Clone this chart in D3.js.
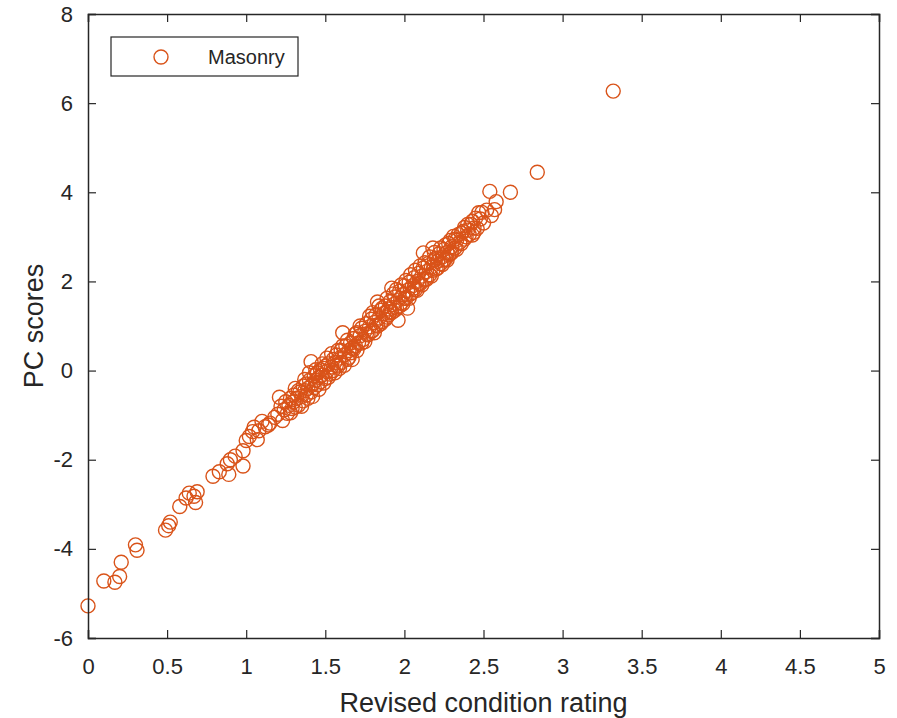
<!DOCTYPE html>
<html>
<head>
<meta charset="utf-8">
<script src="https://cdn.jsdelivr.net/npm/d3@7"></script>
<style>
  body { margin: 0; background: #fff; }
  text { font-family: "Liberation Sans", Arial, Helvetica, sans-serif; fill: #262626; }
</style>
</head>
<body>
<script>
//Chart data
var rating = [
  0.00, 0.10, 0.17, 0.20, 0.21, 0.30, 0.31, 0.49, 0.51, 0.52,
  0.58, 0.62, 0.64, 0.68, 0.67, 0.69, 0.79, 0.83, 0.89, 0.88,
  0.90, 0.93, 0.98, 0.98, 1.00, 1.02, 1.04, 1.05, 1.08, 1.10,
  1.12, 1.07, 1.14, 1.15, 1.18, 1.20, 1.21, 1.22, 1.23, 1.24,
  1.25, 1.26, 1.27, 1.28, 1.29, 1.30, 1.30, 1.31, 1.32, 1.33,
  1.34, 1.35, 1.36, 1.36, 1.37, 1.38, 1.38, 1.39, 1.40, 1.41,
  1.41, 1.42, 1.43, 1.43, 1.44, 1.45, 1.45, 1.46, 1.47, 1.47,
  1.48, 1.49, 1.50, 1.50, 1.51, 1.52, 1.53, 1.54, 1.55, 1.55,
  1.56, 1.57, 1.58, 1.59, 1.60, 1.60, 1.61, 1.62, 1.63, 1.64,
  1.65, 1.66, 1.67, 1.67, 1.68, 1.69, 1.70, 1.71, 1.72, 1.73,
  1.74, 1.75, 1.76, 1.77, 1.78, 1.79, 1.80, 1.81, 1.82, 1.83,
  1.83, 1.84, 1.85, 1.86, 1.87, 1.88, 1.89, 1.90, 1.91, 1.92,
  1.92, 1.93, 1.94, 1.95, 1.96, 1.96, 1.97, 1.98, 1.99, 2.00,
  2.01, 2.02, 2.02, 2.03, 2.04, 2.05, 2.06, 2.07, 2.08, 2.09,
  2.10, 2.11, 2.12, 2.12, 2.13, 2.14, 2.15, 2.16, 2.17, 2.18,
  2.19, 2.20, 2.21, 2.22, 2.23, 2.24, 2.25, 2.26, 2.27, 2.28,
  2.29, 2.30, 2.31, 2.32, 2.33, 2.35, 2.36, 2.38, 2.39, 2.40,
  2.42, 2.43, 2.44, 2.46, 2.47, 2.48, 2.50, 2.52, 2.54, 2.55,
  2.57, 2.58, 2.67, 2.84, 3.32,
  1.28, 1.31, 1.33, 1.35, 1.37, 1.39, 1.40, 1.42, 1.44, 1.46,
  1.48, 1.49, 1.51, 1.52, 1.54, 1.56, 1.57, 1.58, 1.59, 1.61,
  1.62, 1.64, 1.65, 1.66, 1.68, 1.69, 1.70, 1.72, 1.73, 1.75,
  1.76, 1.78, 1.79, 1.80, 1.81, 1.82, 1.84, 1.85, 1.86, 1.88,
  1.89, 1.90, 1.91, 1.93, 1.94, 1.95, 1.97, 1.98, 1.99, 2.00,
  2.01, 2.03, 2.04, 2.05, 2.06, 2.07, 2.08, 2.09, 2.10, 2.11,
  2.13, 2.14, 2.16, 2.17, 2.18, 2.19, 2.20, 2.21, 2.23, 2.24,
  2.25, 2.26, 2.27, 2.28, 2.29, 2.30, 2.32, 2.33, 2.34, 2.36,
  2.37, 2.38, 2.40, 2.41, 2.43, 2.45, 2.44, 2.49
];
var scores = [
  -5.28, -4.72, -4.75, -4.62, -4.30, -3.91, -4.03, -3.58, -3.48, -3.40,
  -3.05, -2.86, -2.75, -2.96, -2.82, -2.72, -2.37, -2.27, -2.33, -2.09,
  -2.00, -1.92, -2.14, -1.80, -1.57, -1.48, -1.37, -1.27, -1.35, -1.14,
  -1.26, -1.55, -1.22, -1.18, -1.05, -0.98, -0.60, -0.80, -1.12, -0.88,
  -0.70, -0.96, -0.78, -0.62, -0.85, -0.55, -0.70, -0.40, -0.62, -0.78,
  -0.48, -0.58, -0.35, -0.68, -0.45, -0.30, -0.55, -0.40, -0.22, 0.20,
  -0.48, -0.30, -0.12, -0.38, -0.22, -0.05, -0.32, -0.15, 0.02, -0.25,
  -0.10, 0.05, -0.18, 0.10, -0.02, 0.15, -0.08, 0.08, 0.25, 0.00,
  0.18, 0.35, 0.10, 0.28, 0.45, 0.18, 0.85, 0.35, 0.55, 0.25,
  0.45, 0.62, 0.25, 0.50, 0.72, 0.55, 0.85, 0.62, 0.78, 0.95,
  0.70, 0.88, 1.05, 0.80, 0.98, 1.15, 0.90, 1.08, 1.25, 1.54,
  1.00, 1.18, 1.35, 1.10, 1.28, 1.45, 1.20, 1.38, 1.55, 1.85,
  1.30, 1.48, 1.65, 1.40, 1.13, 1.58, 1.78, 1.52, 1.70, 1.90,
  1.62, 1.40, 1.80, 1.98, 1.72, 1.90, 2.08, 1.82, 2.00, 2.18,
  1.95, 2.12, 2.64, 2.30, 2.05, 2.22, 2.40, 2.15, 2.32, 2.75,
  2.48, 2.28, 2.45, 2.62, 2.40, 2.55, 2.72, 2.50, 2.65, 2.85,
  2.62, 2.78, 3.01, 2.75, 2.92, 2.88, 3.08, 3.21, 3.00, 3.15,
  3.28, 3.04, 3.20, 3.19, 3.54, 3.40, 3.31, 3.60, 4.02, 3.48,
  3.61, 3.79, 4.00, 4.45, 6.27,
  -0.95, -0.82, -0.45, -0.80, -0.20, -0.62, -0.05, -0.58, 0.02, -0.42,
  0.15, -0.28, 0.28, -0.15, 0.38, -0.05, 0.12, 0.45, 0.05, 0.55,
  0.12, 0.68, 0.30, 0.40, 0.48, 0.82, 0.45, 1.00, 0.62, 0.65,
  0.82, 1.22, 0.88, 1.30, 0.85, 1.02, 1.45, 1.05, 1.40, 1.15,
  1.62, 1.25, 1.32, 1.72, 1.35, 1.82, 1.45, 1.92, 1.50, 1.62,
  2.02, 1.62, 2.15, 1.75, 1.85, 2.25, 1.80, 1.95, 2.35, 1.92,
  2.42, 2.05, 2.55, 2.12, 2.25, 2.65, 2.52, 2.30, 2.75, 2.38,
  2.48, 2.82, 2.48, 2.60, 2.92, 2.65, 2.95, 2.72, 3.05, 2.85,
  3.12, 2.95, 3.28, 3.05, 3.35, 3.42, 3.10, 3.55
];
var xTicks = [0, 0.5, 1, 1.5, 2, 2.5, 3, 3.5, 4, 4.5, 5];
var yTicks = [-6, -4, -2, 0, 2, 4, 6, 8];
var seriesName = "Masonry";

//Size and margins
var w = 897;
var h = 718;
var margin = {top: 14, right: 18, bottom: 80, left: 88};
var pw = w - margin.left - margin.right;
var ph = h - margin.top - margin.bottom;
var orange = "#D95319";
var ink = "#262626";

var x = d3.scaleLinear().domain([0, 5]).range([0, pw]);
var y = d3.scaleLinear().domain([-6, 8]).range([ph, 0]);

//Plain hyphen minus like the original
var fmt = function(d) { return String(d); };

var svg = d3.select("body")
  .append("svg")
  .attr("width", w)
  .attr("height", h);

var g = svg.append("g")
  .attr("transform", "translate(" + margin.left + "," + margin.top + ")");

//Points
g.selectAll("circle.pt")
  .data(d3.range(rating.length))
  .enter()
  .append("circle")
  .attr("class", "pt")
  .attr("cx", function(i) { return x(rating[i]); })
  .attr("cy", function(i) { return y(scores[i]); })
  .attr("r", 7)
  .attr("fill", "none")
  .attr("stroke", orange)
  .attr("stroke-width", 1.4);

//Axes, ticks pointing inwards, mirrored on top and right
var tl = 8;
var xAxis = g.append("g")
  .attr("transform", "translate(0," + ph + ")")
  .call(d3.axisBottom(x).tickValues(xTicks).tickSize(-tl).tickPadding(tl + 12).tickFormat(fmt));
var xTop = g.append("g")
  .call(d3.axisTop(x).tickValues(xTicks).tickSize(-tl).tickFormat(""));
var yAxis = g.append("g")
  .call(d3.axisLeft(y).tickValues(yTicks).tickSize(-tl).tickPadding(tl + 7).tickFormat(fmt));
var yRight = g.append("g")
  .attr("transform", "translate(" + pw + ",0)")
  .call(d3.axisRight(y).tickValues(yTicks).tickSize(-tl).tickFormat(""));

[xAxis, xTop, yAxis, yRight].forEach(function(a) {
  a.select(".domain").attr("stroke", ink).attr("stroke-width", 1.5);
  a.selectAll(".tick line").attr("stroke", ink).attr("stroke-width", 1.2);
  a.selectAll("text").style("font-size", "22px").attr("fill", "#333");
});

//Axis labels
svg.append("text")
  .attr("x", margin.left + pw / 2)
  .attr("y", 712)
  .attr("text-anchor", "middle")
  .style("font-size", "27px")
  .attr("fill", "#333")
  .text("Revised condition rating");

svg.append("text")
  .attr("transform", "translate(43," + (margin.top + ph / 2) + ") rotate(-90)")
  .attr("text-anchor", "middle")
  .style("font-size", "27px")
  .attr("fill", "#333")
  .text("PC scores");

//Legend
var legend = svg.append("g");
legend.append("rect")
  .attr("x", 111)
  .attr("y", 37)
  .attr("width", 187)
  .attr("height", 39)
  .attr("fill", "#fff")
  .attr("stroke", ink)
  .attr("stroke-width", 1.2);
legend.append("circle")
  .attr("cx", 161)
  .attr("cy", 57)
  .attr("r", 7)
  .attr("fill", "none")
  .attr("stroke", orange)
  .attr("stroke-width", 1.4);
legend.append("text")
  .attr("x", 208)
  .attr("y", 64)
  .style("font-size", "20px")
  .attr("fill", "#333")
  .text(seriesName);
</script>
</body>
</html>
